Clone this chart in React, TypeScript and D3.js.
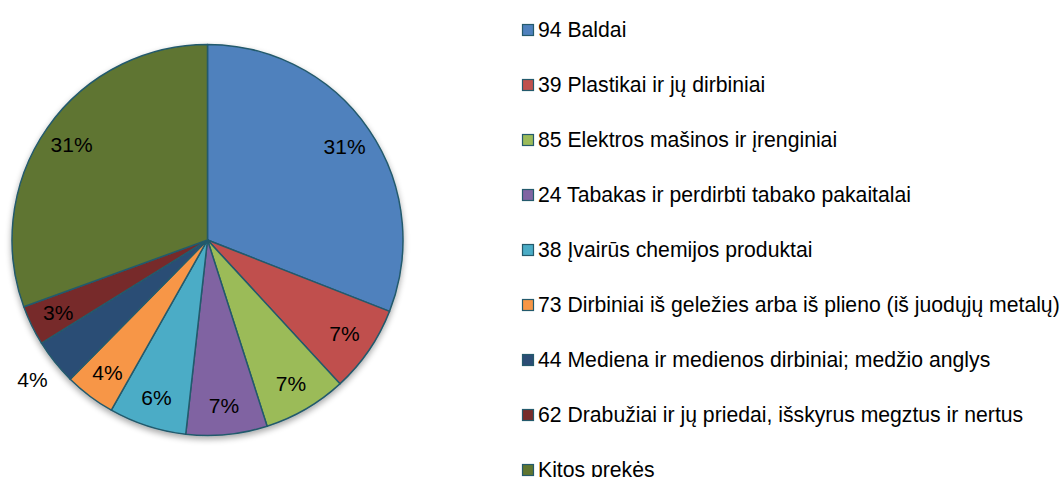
import React from 'react';
import * as d3 from 'd3';

const categories = [
  '94 Baldai',
  '39 Plastikai ir jų dirbiniai',
  '85 Elektros mašinos ir įrenginiai',
  '24 Tabakas ir perdirbti tabako pakaitalai',
  '38 Įvairūs chemijos produktai',
  '73 Dirbiniai iš geležies arba iš plieno (iš juodųjų metalų)',
  '44 Mediena ir medienos dirbiniai; medžio anglys',
  '62 Drabužiai ir jų priedai, išskyrus megztus ir nertus',
  'Kitos prekės',
];
const shares = [30.9, 7.2, 6.9, 6.7, 6.4, 4.2, 3.75, 3.3, 30.5];
const colors = [
  '#4f81bd', '#c0504d', '#9bbb59', '#8064a2', '#4bacc6',
  '#f79646', '#2c4d75', '#772c2a', '#5f7530',
];
// labels Excel pushed outside the slice
const outsideLabels = ['44 Mediena ir medienos dirbiniai; medžio anglys'];

const width = 1064;
const height = 477;
const cx = 207.5;
const cy = 240;
const radius = 195.5;
const font = 'Arial, "Liberation Sans", sans-serif';

const App = () => {
  const data = categories.map((c, i) => ({ name: c, value: shares[i], color: colors[i] }));
  const total = d3.sum(shares);

  const pie = d3.pie<any>().sort(null).value(d => d.value);
  const arcs = pie(data);
  const arc = d3.arc<any>().innerRadius(0).outerRadius(radius);
  const labelArc = d3.arc<any>().innerRadius(166).outerRadius(166);
  const outerArc = d3.arc<any>().innerRadius(224).outerRadius(224);

  const legendY = d3.scalePoint().domain(categories).range([30, 470]);

  return (
    <svg width={width} height={height} style={{ position: 'absolute', left: 0, top: 0, background: '#fff' }}>
      <defs>
        <filter id="shadow" x="-20%" y="-20%" width="140%" height="140%">
          <feGaussianBlur in="SourceAlpha" stdDeviation="3" />
          <feOffset dx="0" dy="3" result="blur" />
          <feComponentTransfer>
            <feFuncA type="linear" slope="0.35" />
          </feComponentTransfer>
          <feMerge>
            <feMergeNode />
            <feMergeNode in="SourceGraphic" />
          </feMerge>
        </filter>
      </defs>
      <g transform={`translate(${cx},${cy})`}>
        <g filter="url(#shadow)">
          {arcs.map((a, i) => (
            <path key={i} d={arc(a) || ''} fill={a.data.color} stroke="#245a6c" strokeWidth={1.5} strokeLinejoin="round" />
          ))}
        </g>
        {arcs.map((a, i) => {
          const out = outsideLabels.includes(a.data.name);
          const [x, y] = (out ? outerArc : labelArc).centroid(a);
          return (
            <text key={'l' + i} x={x} y={y} dy="0.35em" textAnchor="middle"
              fontFamily={font} fontSize={21} fill="#000">
              {Math.round((a.data.value / total) * 100) + '%'}
            </text>
          );
        })}
      </g>
      <g>
        {categories.map((c, i) => (
          <g key={c} transform={`translate(522,${legendY(c)})`}>
            <rect x={0.5} y={-5.5} width={11} height={11} fill={colors[i]} stroke="#245a6c" strokeWidth={1.2} />
            <text x={16} y={0} dy="0.35em" fontFamily={font} fontSize={21.2} fill="#000">{c}</text>
          </g>
        ))}
      </g>
    </svg>
  );
};

export default App;
